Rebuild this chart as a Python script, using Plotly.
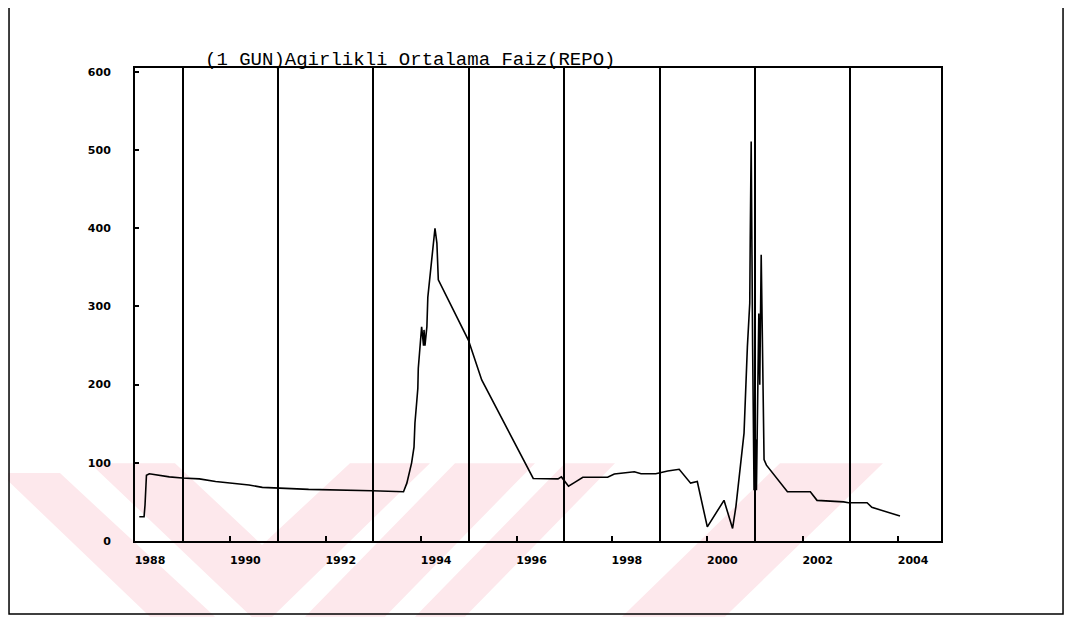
import plotly.graph_objects as go

# ---- data ----
years = [1988.09, 1988.19, 1988.21, 1988.24, 1988.30, 1988.72, 1988.99, 1989.35, 1989.69,
         1990.04, 1990.39, 1990.67, 1991.02, 1991.64, 1992.97, 1993.63, 1993.70, 1993.80,
         1993.85, 1993.87, 1993.91, 1993.93, 1993.94, 1993.99, 1994.01, 1994.05, 1994.06,
         1994.08, 1994.12, 1994.14, 1994.21, 1994.26, 1994.29, 1994.33, 1994.36, 1994.99,
         1995.27, 1996.35, 1996.87, 1996.94, 1997.09, 1997.22, 1997.39, 1997.91, 1998.05,
         1998.47, 1998.61, 1998.92, 1999.17, 1999.41, 1999.65, 1999.79, 2000.00, 2000.35,
         2000.53, 2000.60, 2000.70, 2000.77, 2000.84, 2000.89, 2000.90, 2000.91, 2000.92,
         2000.95, 2000.98, 2001.01, 2001.03, 2001.08, 2001.10, 2001.13, 2001.15, 2001.17,
         2001.19, 2001.24, 2001.68, 2002.16, 2002.30, 2002.86, 2002.96, 2003.35, 2003.45,
         2004.04]
rates = [31, 31, 46, 84, 86, 82, 80.5, 79.5, 76,
         74, 71.6, 68.6, 67.4, 66, 64.3, 63, 74, 100,
         120, 151, 180, 195, 221, 257, 274, 250, 270,
         250, 274, 312, 351, 385, 400, 381, 334, 257,
         206, 80, 79.5, 82, 70, 75, 81.5, 81.5, 85.7,
         88.6, 86, 86, 89.6, 91.7, 74, 76, 18, 52,
         16, 44, 95, 138, 248, 304, 385, 423, 511,
         250, 65, 130, 65, 291, 200, 366, 250, 172,
         104, 97, 63, 63, 52, 50, 49, 49, 43,
         32]

x_tick_years = [1988, 1990, 1992, 1994, 1996, 1998, 2000, 2002, 2004]
x_tick_labels = [str(y) for y in x_tick_years]
grid_years = [1989, 1991, 1993, 1995, 1997, 1999, 2001, 2003]
y_tick_vals = [0, 100, 200, 300, 400, 500, 600]
y_tick_labels = [str(v) for v in y_tick_vals]
title_text = "(1 GUN)Agirlikli Ortalama Faiz(REPO)"

fig = go.Figure()
fig.add_trace(go.Scatter(x=years, y=rates, mode="lines",
                         line=dict(color="black", width=1.6), showlegend=False,
                         hoverinfo="skip"))

tick_font = dict(family="DejaVu Sans", size=11, color="black", weight="bold")

# ---- faint pink scan watermark (decoration, screen-pixel geometry) ----
PL, PR, PT, PB = 135.0, 941.0, 67.0, 541.0


def to_paper(sx, sy):
    return (sx - PL) / (PR - PL), (PB - sy) / (PB - PT)


def poly_path(points):
    parts = []
    for i, (sx, sy) in enumerate(points):
        x, y = to_paper(sx, sy)
        parts.append(("M" if i == 0 else "L") + f"{x:.4f},{y:.4f}")
    return " ".join(parts) + " Z"


TOP, BOT = 463, 617
wm_polys = [
    [(0, TOP + 10), (60, TOP + 10), (215, BOT), (150, BOT)],
    [(90, TOP), (175, TOP), (262, 545), (350, TOP), (430, TOP), (262, BOT + 10)],
    [(455, TOP), (535, TOP), (385, BOT), (305, BOT)],
    [(565, TOP), (615, TOP), (465, BOT), (415, BOT)],
    [(780, TOP), (883, TOP), (725, BOT), (622, BOT)],
]
wm_shapes = [dict(type="path", xref="paper", yref="paper", path=poly_path(p),
                  fillcolor="#fde8ec", line=dict(width=0), layer="below")
             for p in wm_polys]

fig.update_layout(
    width=1064, height=609,
    margin=dict(l=127, r=131, t=60, b=76),
    paper_bgcolor="white", plot_bgcolor="rgba(0,0,0,0)",
    xaxis=dict(range=[1988.0, 2004.9], tickmode="array", tickvals=x_tick_years,
               ticktext=x_tick_labels, ticks="inside", ticklen=5, tickwidth=1.5,
               tickcolor="black", showgrid=False, zeroline=False,
               showline=True, linecolor="black", linewidth=2, mirror=True,
               tickfont=tick_font, ticklabelshift=15, ticklabelstandoff=8,
               minor=dict(tickmode="array", tickvals=grid_years, showgrid=True,
                          gridcolor="black", gridwidth=2, ticks="")),
    yaxis=dict(range=[0, 605], tickmode="array", tickvals=y_tick_vals,
               ticktext=y_tick_labels, ticks="inside", ticklen=4, tickwidth=1.5,
               tickcolor="black", showgrid=False, zeroline=False,
               showline=True, linecolor="black", linewidth=2, mirror=True,
               tickfont=tick_font, ticklabelstandoff=20),
    annotations=[dict(text=title_text, x=0.341, y=1.017, xref="paper", yref="paper",
                      xanchor="center", yanchor="middle", showarrow=False,
                      font=dict(family="Liberation Mono", size=19, color="black"))],
    shapes=wm_shapes + [dict(type="rect", xref="paper", yref="paper",
                             x0=-0.1563, x1=1.1514, y0=-0.1543, y1=1.1353,
                             line=dict(color="black", width=1.5), layer="below")],
)

fig.write_html("out.html")
